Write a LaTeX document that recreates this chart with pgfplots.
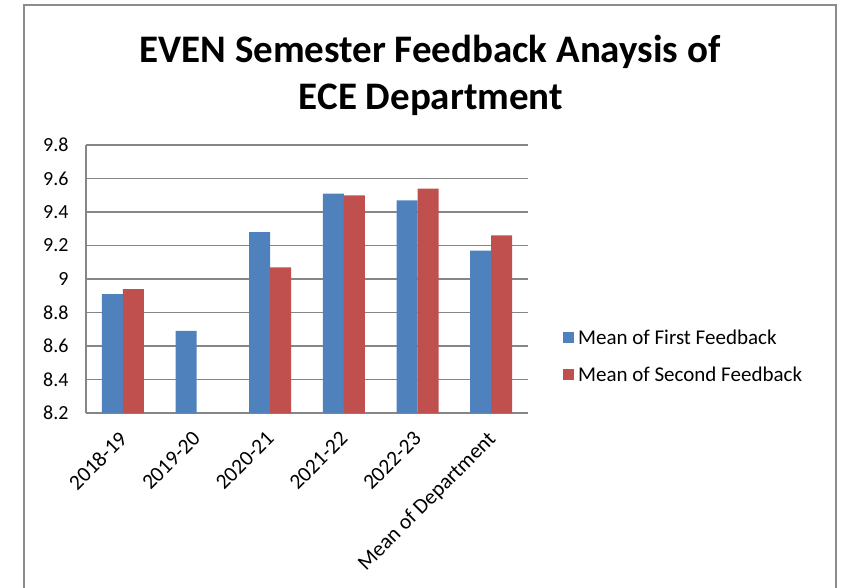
\documentclass[border=0pt]{standalone}
\usepackage{fontspec}
\setmainfont{Carlito}
\usepackage{pgfplots}
\pgfplotsset{compat=1.18}
\definecolor{firstfb}{HTML}{4F81BD}
\definecolor{secondfb}{HTML}{C0504D}
\definecolor{gridgray}{HTML}{868686}
\definecolor{framegray}{HTML}{8C8C8C}
\begin{document}
\begin{tikzpicture}[x=1pt,y=1pt]
\clip (0,0) rectangle (842,587);
\draw[framegray, line width=2pt] (24,582) rectangle (836,-10);
\node[anchor=base, font=\fontsize{39}{46}\selectfont\bfseries] at (430,524) {EVEN Semester Feedback Anaysis of};
\node[anchor=base, font=\fontsize{39}{46}\selectfont\bfseries] at (431,477) {ECE Department};
\begin{axis}[
    at={(86pt,174pt)}, anchor=south west,
    scale only axis, width=442pt, height=268pt,
    ybar=0pt, bar width=21pt,
    xmin=-0.5, xmax=5.5,
    ymin=8.2, ymax=9.8,
    enlargelimits=false,
    xtick={0,1,2,3,4,5},
    xticklabels={2018-19,2019-20,2020-21,2021-22,2022-23,Mean of Department},
    ytick={8.2,8.4,8.6,8.8,9,9.2,9.4,9.6,9.8},
    /pgf/number format/assume math mode=true,
    yticklabel style={/pgf/number format/fixed, /pgf/number format/precision=1,
        xshift=-14pt, font=\fontsize{20}{24}\selectfont},
    xticklabel style={rotate=45, anchor=north east, xshift=-12pt, yshift=-5pt,
        font=\fontsize{21.5}{25}\selectfont},
    major tick length=0pt,
    axis x line*=bottom, axis y line*=left,
    axis line style={gridgray, line width=1.3pt, -},
    ymajorgrids, grid style={gridgray, line width=1.3pt},
    legend style={at={(1.079,0.211)}, anchor=west, draw=none, fill=none,
        font=\fontsize{21}{25}\selectfont, row sep=17pt, inner sep=0pt,
        cells={anchor=west}},
]
\addplot[fill=firstfb, draw=none,
    legend image code/.code={\fill[firstfb] (0pt,-5.5pt) rectangle (11pt,5.5pt); \path (13pt,0pt);}]
    coordinates {(0,8.91) (1,8.69) (2,9.28) (3,9.51) (4,9.47) (5,9.17)};
\addplot[fill=secondfb, draw=none,
    legend image code/.code={\fill[secondfb] (0pt,-5.5pt) rectangle (11pt,5.5pt); \path (13pt,0pt);}]
    coordinates {(0,8.94) (2,9.07) (3,9.50) (4,9.54) (5,9.26)};
\legend{Mean of First Feedback, Mean of Second Feedback}
\end{axis}
\end{tikzpicture}
\end{document}
